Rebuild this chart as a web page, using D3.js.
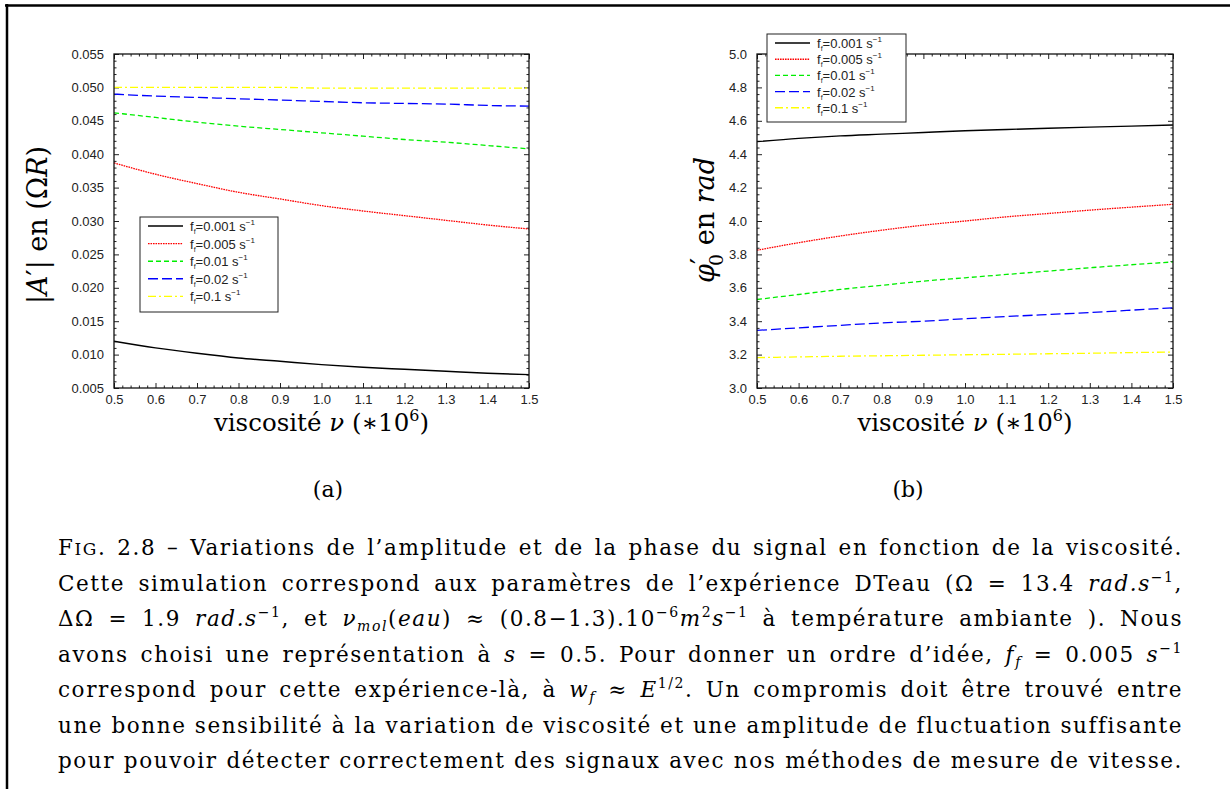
<!DOCTYPE html>
<html>
<head>
<meta charset="utf-8">
<script src="https://cdn.jsdelivr.net/npm/d3@7"></script>
<style>
    body { margin: 0; background: #fff; }
    svg { display: block; }
</style>
</head>
<body>
<svg id="figure" width="1230" height="789"></svg>
<script>
// viscosity (*10^6), x values of every curve
const nu = [0.5, 0.6, 0.7, 0.8, 0.9, 1.0, 1.1, 1.2, 1.3, 1.4, 1.5];

const seriesLabels = ['0.001', '0.005', '0.01', '0.02', '0.1'];

// (a) |A'| en (Omega R)
const ampF001 = [0.0120, 0.0110, 0.0102, 0.0095, 0.0090, 0.0085, 0.0081, 0.0078, 0.0075, 0.0072, 0.0070];
const ampF005 = [0.0387, 0.0370, 0.0356, 0.0343, 0.0333, 0.0323, 0.0315, 0.0308, 0.0301, 0.0294, 0.0288];
const ampF01  = [0.0462, 0.0455, 0.0448, 0.0442, 0.0437, 0.0432, 0.0427, 0.0422, 0.0418, 0.0413, 0.0408];
const ampF02  = [0.0490, 0.0487, 0.0485, 0.0483, 0.0481, 0.0479, 0.0477, 0.0476, 0.0475, 0.0473, 0.0472];
const ampF1   = [0.0500, 0.0500, 0.0500, 0.0500, 0.0500, 0.0499, 0.0499, 0.0499, 0.0499, 0.0499, 0.0499];

// (b) phi'_0 en rad
const phaseF001 = [4.475, 4.495, 4.510, 4.520, 4.530, 4.540, 4.548, 4.555, 4.562, 4.568, 4.575];
const phaseF005 = [3.825, 3.870, 3.910, 3.945, 3.975, 4.000, 4.025, 4.045, 4.065, 4.083, 4.100];
const phaseF01  = [3.530, 3.560, 3.590, 3.615, 3.640, 3.660, 3.680, 3.700, 3.720, 3.738, 3.755];
const phaseF02  = [3.345, 3.360, 3.375, 3.390, 3.400, 3.415, 3.428, 3.440, 3.452, 3.466, 3.480];
const phaseF1   = [3.182, 3.186, 3.190, 3.193, 3.196, 3.199, 3.202, 3.205, 3.208, 3.212, 3.215];

// tick labels
const xTicks = [0.5, 0.6, 0.7, 0.8, 0.9, 1.0, 1.1, 1.2, 1.3, 1.4, 1.5];
const ampTicks = [0.005, 0.010, 0.015, 0.020, 0.025, 0.030, 0.035, 0.040, 0.045, 0.050, 0.055];
const phaseTicks = [3.0, 3.2, 3.4, 3.6, 3.8, 4.0, 4.2, 4.4, 4.6, 4.8, 5.0];

window.Fig = window.Fig || {};

Fig.styles = [
    { color: '#000000', dash: null },
    { color: '#ff0000', dash: '1.6,0.9' },
    { color: '#00ee00', dash: '5,3' },
    { color: '#0000ff', dash: '10,4' },
    { color: '#ffff00', dash: '8,3,2,3' }
];

Fig.tickFont = '"Liberation Sans", Arial, sans-serif';
Fig.texFont = '"DejaVu Serif", "Liberation Serif", serif';

Fig.init = function() {
    Fig.svg = d3.select('#figure');
    Fig.svg.append('rect').attr('width', 1230).attr('height', 789).attr('fill', '#fff');

    // page frame (top and left rules)
    Fig.svg.append('line').attr('x1', 5).attr('x2', 1230).attr('y1', 5.5).attr('y2', 5.5)
        .attr('stroke', '#000').attr('stroke-width', 2.5);
    Fig.svg.append('line').attr('x1', 7).attr('x2', 7).attr('y1', 4).attr('y2', 789)
        .attr('stroke', '#000').attr('stroke-width', 2.5);

    Fig.drawPanel({
        left: 114, right: 529, top: 54, bottom: 388,
        yDomain: [0.005, 0.055], yTicks: ampTicks, yMinorStep: 0.001, yFormat: '.3f',
        series: [ampF001, ampF005, ampF01, ampF02, ampF1],
        legend: { x: 140, y: 217, w: 138, h: 95 },
        ylabel: { x: 47, y: 225, parts: [['|', ''], ['A', 'i'], ['′', ''], ['| en (Ω', ''], ['R', 'i'], [')', '']] }
    });

    Fig.drawPanel({
        left: 757, right: 1173, top: 54, bottom: 388,
        yDomain: [3.0, 5.0], yTicks: phaseTicks, yMinorStep: 0.04, yFormat: '.1f',
        series: [phaseF001, phaseF005, phaseF01, phaseF02, phaseF1],
        legend: { x: 767, y: 34, w: 139, h: 88 },
        ylabel: { x: 714, y: 220, parts: [['φ', 'i'], ['′', 'prime'], ['0', 'sub0'], [' en ', 'back'], ['rad', 'i']] }
    });

    Fig.drawCaption();
};

Fig.drawPanel = function(cfg) {
    let x = d3.scaleLinear().domain([0.5, 1.5]).range([cfg.left, cfg.right]);
    let y = d3.scaleLinear().domain(cfg.yDomain).range([cfg.bottom, cfg.top]);
    let g = Fig.svg.append('g');

    let xMinor = d3.range(25, 76).map(d => d / 50).filter(v => Math.abs(v * 10 - Math.round(v * 10)) > 1e-6);
    let yMinor = d3.range(Math.round(cfg.yDomain[0] / cfg.yMinorStep), Math.round(cfg.yDomain[1] / cfg.yMinorStep) + 1)
        .map(d => d * cfg.yMinorStep)
        .filter(v => !cfg.yTicks.some(t => Math.abs(t - v) < cfg.yMinorStep / 10));

    let axisStyle = function(sel) {
        sel.select('.domain').remove();
        sel.selectAll('line').attr('stroke', '#222').attr('stroke-width', 1);
        sel.selectAll('text').attr('font-family', Fig.tickFont).attr('font-size', 13).attr('fill', '#222');
    };

    // major ticks with labels, bottom and left
    g.append('g').attr('transform', 'translate(0,' + cfg.bottom + ')')
        .call(d3.axisBottom(x).tickValues(xTicks).tickFormat(d3.format('.1f')).tickSize(-5).tickPadding(7))
        .call(axisStyle);
    g.append('g').attr('transform', 'translate(' + cfg.left + ',0)')
        .call(d3.axisLeft(y).tickValues(cfg.yTicks).tickFormat(d3.format(cfg.yFormat)).tickSize(-5).tickPadding(10))
        .call(axisStyle);
    // mirrored ticks on top and right
    g.append('g').attr('transform', 'translate(0,' + cfg.top + ')')
        .call(d3.axisTop(x).tickValues(xTicks).tickFormat('').tickSize(-5))
        .call(axisStyle);
    g.append('g').attr('transform', 'translate(' + cfg.right + ',0)')
        .call(d3.axisRight(y).tickValues(cfg.yTicks).tickFormat('').tickSize(-5))
        .call(axisStyle);
    // minor ticks
    g.append('g').attr('transform', 'translate(0,' + cfg.bottom + ')')
        .call(d3.axisBottom(x).tickValues(xMinor).tickFormat('').tickSize(-2.5)).call(axisStyle);
    g.append('g').attr('transform', 'translate(0,' + cfg.top + ')')
        .call(d3.axisTop(x).tickValues(xMinor).tickFormat('').tickSize(-2.5)).call(axisStyle);
    g.append('g').attr('transform', 'translate(' + cfg.left + ',0)')
        .call(d3.axisLeft(y).tickValues(yMinor).tickFormat('').tickSize(-2.5)).call(axisStyle);
    g.append('g').attr('transform', 'translate(' + cfg.right + ',0)')
        .call(d3.axisRight(y).tickValues(yMinor).tickFormat('').tickSize(-2.5)).call(axisStyle);

    // curves
    let line = d3.line()
        .x((d, i) => x(nu[i]))
        .y(d => y(d))
        .curve(d3.curveMonotoneX);

    cfg.series.forEach(function(vals, k) {
        g.append('path')
            .attr('d', line(vals))
            .attr('fill', 'none')
            .attr('stroke', Fig.styles[k].color)
            .attr('stroke-width', k === 0 ? 1.4 : 1.3)
            .attr('stroke-dasharray', Fig.styles[k].dash);
    });

    // plot frame
    g.append('rect')
        .attr('x', cfg.left).attr('y', cfg.top)
        .attr('width', cfg.right - cfg.left).attr('height', cfg.bottom - cfg.top)
        .attr('fill', 'none').attr('stroke', '#111').attr('stroke-width', 1.3);

    Fig.drawLegend(g, cfg.legend);

    // axis titles
    let xl = g.append('text')
        .attr('x', (cfg.left + cfg.right) / 2).attr('y', 431)
        .attr('text-anchor', 'middle')
        .attr('font-family', Fig.texFont).attr('font-size', 24.5);
    xl.append('tspan').text('viscosité ');
    xl.append('tspan').attr('font-style', 'italic').text('ν');
    xl.append('tspan').text(' (∗10');
    xl.append('tspan').attr('font-size', 16).attr('dy', -10).text('6');
    xl.append('tspan').attr('dy', 10).text(')');

    let yl = g.append('text')
        .attr('transform', 'translate(' + cfg.ylabel.x + ',' + cfg.ylabel.y + ') rotate(-90)')
        .attr('text-anchor', 'middle')
        .attr('font-family', Fig.texFont).attr('font-size', 27);
    cfg.ylabel.parts.forEach(function(p) {
        let t = yl.append('tspan').text(p[0]);
        if (p[1] === 'i') t.attr('font-style', 'italic');
        if (p[1] === 'prime') t.attr('dy', -3);
        if (p[1] === 'sub0') t.attr('font-size', 19).attr('dx', -8).attr('dy', 12);
        if (p[1] === 'back') t.attr('dy', -9);
    });
};

Fig.drawLegend = function(g, box) {
    let lg = g.append('g');
    lg.append('rect')
        .attr('x', box.x).attr('y', box.y).attr('width', box.w).attr('height', box.h)
        .attr('fill', '#fff').attr('stroke', '#222').attr('stroke-width', 1);

    let step = (box.h - 7) / seriesLabels.length;
    seriesLabels.forEach(function(lab, k) {
        let cy = box.y + 9 + k * step;
        lg.append('line')
            .attr('x1', box.x + 8).attr('x2', box.x + 43)
            .attr('y1', cy).attr('y2', cy)
            .attr('stroke', Fig.styles[k].color).attr('stroke-width', 1.4)
            .attr('stroke-dasharray', Fig.styles[k].dash);
        let t = lg.append('text')
            .attr('x', box.x + 50).attr('y', cy + 5)
            .attr('font-family', Fig.tickFont).attr('font-size', 13).attr('fill', '#222');
        t.append('tspan').text('f');
        t.append('tspan').attr('font-size', 7).attr('dy', 3).text('f');
        t.append('tspan').attr('dy', -3).text('=' + lab + ' s');
        t.append('tspan').attr('font-size', 8).attr('dy', -6).text('−1');
    });
};

Fig.caption = [
    [['F', ''], ['IG', 'sc'], ['. 2.8 – Variations de l’amplitude et de la phase du signal en fonction de la viscosité.', '']],
    [['Cette simulation correspond aux paramètres de l’expérience DTeau (Ω = 13.4 ', ''], ['rad.s', 'i'], ['−1', 'sup'], [',', '']],
    [['ΔΩ = 1.9 ', ''], ['rad.s', 'i'], ['−1', 'sup'], [', et ', ''], ['ν', 'i'], ['mol', 'isub'], ['(', ''], ['eau', 'i'],
     [') ≈ (0.8−1.3).10', ''], ['−6', 'sup'], ['m', 'i'], ['2', 'sup'], ['s', 'i'], ['−1', 'sup'], [' à température ambiante ). Nous', '']],
    [['avons choisi une représentation à ', ''], ['s', 'i'], [' = 0.5. Pour donner un ordre d’idée, ', ''], ['f', 'i'], ['f', 'isub'],
     [' = 0.005 ', ''], ['s', 'i'], ['−1', 'sup']],
    [['correspond pour cette expérience-là, à ', ''], ['w', 'i'], ['f', 'isub'], [' ≈ ', ''], ['E', 'i'], ['1/2', 'sup'],
     ['. Un compromis doit être trouvé entre', '']],
    [['une bonne sensibilité à la variation de viscosité et une amplitude de fluctuation suffisante', '']],
    [['pour pouvoir détecter correctement des signaux avec nos méthodes de mesure de vitesse.', '']]
];

Fig.drawCaption = function() {
    let cap = Fig.svg.append('g').attr('font-family', Fig.texFont).attr('fill', '#000');

    cap.append('text').attr('x', 328).attr('y', 497).attr('text-anchor', 'middle').attr('font-size', 22).text('(a)');
    cap.append('text').attr('x', 908).attr('y', 497).attr('text-anchor', 'middle').attr('font-size', 22).text('(b)');

    let left = 58, right = 1183;
    let lines = Fig.caption.map(function(parts, li) {
        let t = cap.append('text')
            .attr('x', left).attr('y', 555 + li * 35.5)
            .attr('font-size', 21.5);
        let shift = 0;
        parts.forEach(function(p) {
            let s = t.append('tspan').text(p[0]);
            let want = 0;
            if (p[1] === 'i' || p[1] === 'isub') s.attr('font-style', 'italic');
            if (p[1] === 'sup') { s.attr('font-size', 14); want = -9; }
            if (p[1] === 'sub' || p[1] === 'isub') { s.attr('font-size', 14); want = 5; }
            if (p[1] === 'sc') s.attr('font-size', 17);
            if (want !== shift) { s.attr('dy', want - shift); shift = want; }
        });
        if (shift !== 0) t.append('tspan').attr('dy', -shift).text('');
        return t;
    });

    // widen letters a little so a plain line (no math) nearly fills the measure
    let plain = Fig.caption[5][0][0];
    let ls = Math.max(0, (right - left - lines[5].node().getComputedTextLength()) / plain.length);
    lines.forEach(t => t.attr('letter-spacing', ls));

    // justify every line with word spacing
    lines.forEach(function(t, li) {
        let natural = t.node().getComputedTextLength();
        let spaces = Fig.caption[li].map(p => (p[0].match(/ /g) || []).length).reduce((a, b) => a + b, 0);
        if (spaces > 0) t.attr('word-spacing', (right - left - natural) / spaces);
    });
};

document.addEventListener('DOMContentLoaded', Fig.init);
</script>
</body>
</html>
